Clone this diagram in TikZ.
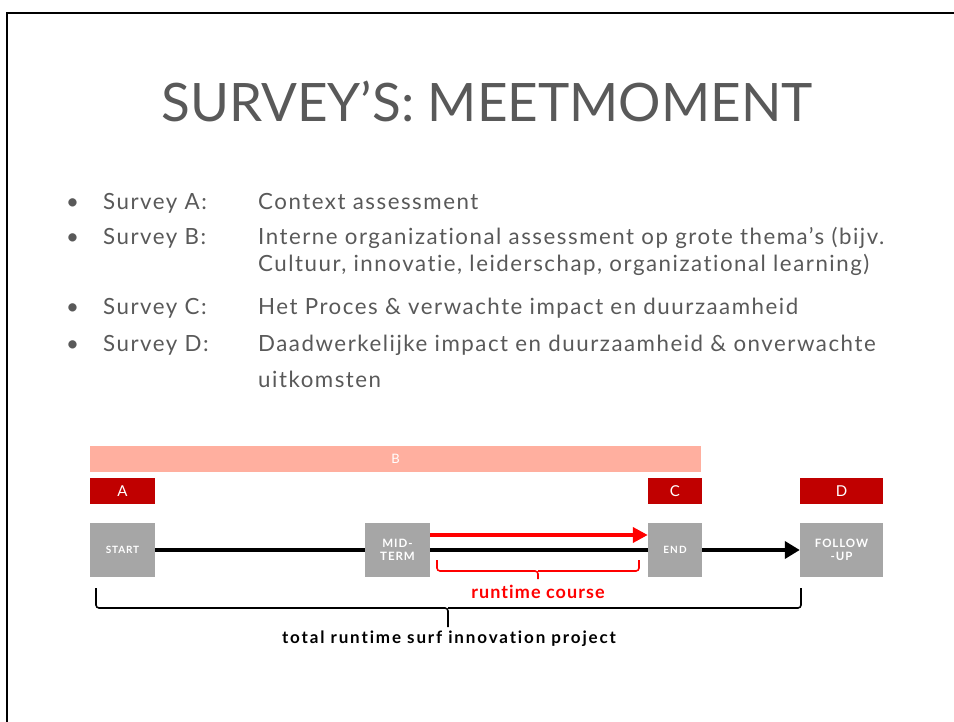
\documentclass[tikz,border=0pt]{standalone}
\usepackage{fontspec}
\setmainfont{Lato}[RawFeature={-liga}]
\usetikzlibrary{arrows.meta}
\definecolor{txtgray}{HTML}{595959}
\definecolor{salmon}{HTML}{FFAF9F}
\definecolor{darkred}{HTML}{C00000}
\definecolor{boxgray}{HTML}{A6A6A6}
\definecolor{brightred}{HTML}{FF0000}
\newcommand{\ls}[1]{\addfontfeature{LetterSpace=#1}}
\tikzset{
  bar/.style={fill=salmon, draw=none, inner sep=0pt, text=white, font=\fontsize{13}{13}\selectfont},
  survey/.style={fill=darkred, draw=none, inner sep=0pt, text=white, font=\fontsize{15}{15}\selectfont\ls{5}},
  phase/.style={fill=boxgray, draw=none, inner sep=0pt, text=white, align=center, font=\bfseries\fontsize{11.5}{13.5}\selectfont\ls{8}},
  bul/.style={anchor=base west, inner sep=0pt, text=txtgray, font=\fontsize{22.3}{22.3}\selectfont\ls{6.8}},
  flow/.style={line width=4pt, black},
  brace/.style={line width=1.6pt, rounded corners=3pt},
}
\begin{document}
\begin{tikzpicture}[x=1pt,y=-1pt]
\useasboundingbox (0,0) rectangle (954,722);
% slide frame
\draw[line width=2.5pt] (7,13) rectangle (1000,800);
% title
\node[text=txtgray, font=\fontsize{53}{53}\selectfont, inner sep=0pt] (title) at (487,101) {SURVEY’S: MEETMOMENT};
% bullets
\foreach \y/\l/\r in {210/Survey A:/Context assessment,
                      245/Survey B:/Interne organizational assessment op grote thema’s (bijv.,
                      315/Survey C:/Het Proces \& verwachte  impact  en duurzaamheid,
                      352/Survey D:/Daadwerkelijke impact en duurzaamheid \& onverwachte}{
  \node[bul] at (66,\y) {•};
  \node[bul] at (103,\y) {\l};
  \node[bul] at (258,\y) {\r};
}
\node[bul] (b2) at (258,272) {Cultuur, innovatie, leiderschap, organizational  learning)};
\node[bul] (d2) at (258,387) {uitkomsten};
% bars
\node[bar, minimum width=611pt, minimum height=26pt] (B) at (395.5,459) {B};
\node[survey, minimum width=65pt, minimum height=26pt] (A) at (122.5,491) {A};
\node[survey, minimum width=54pt, minimum height=26pt] (C) at (675,491) {C};
\node[survey, minimum width=83pt, minimum height=26pt] (D) at (841.5,491) {D};
% phases
\node[phase, minimum width=65pt, minimum height=54pt, font=\bfseries\fontsize{10}{11}\selectfont\ls{8}] (start) at (122.5,550) {START};
\node[phase, minimum width=65pt, minimum height=54pt] (mid) at (397.5,550) {MID-\\TERM};
\node[phase, minimum width=54pt, minimum height=54pt, font=\bfseries\fontsize{10}{11}\selectfont\ls{12}] (end) at (675,550) {END};
\node[phase, minimum width=83pt, minimum height=54pt] (fu) at (841.5,550) {FOLLOW\\-UP};
% flow lines
\draw[flow] (start.east) -- (mid.west);
\draw[flow] (mid.east) -- (end.west);
\draw[flow, -{Triangle[length=15pt,width=17pt]}] (end.east) -- (fu.west);
\draw[line width=4pt, brightred, -{Triangle[length=15pt,width=15pt]}] ([yshift=15pt]mid.east) -- ([yshift=15pt]end.west);
% red brace
\coordinate (rb1) at (437,560);
\coordinate (rb2) at (639,560);
\coordinate (rbm) at (538,571);
\coordinate (rbt) at (538,579);
\draw[brace, brightred] (rb1) |- (rbm) -- (rbt);
\draw[brace, brightred] (rb2) |- (rbm);
\node[text=brightred, font=\bfseries\fontsize{18}{18}\selectfont\ls{6}, inner sep=0pt] (rc) at (538,592) {runtime  course};
% black brace
\coordinate (bb1) at (96,588);
\coordinate (bb2) at (801,588);
\coordinate (bbm) at (448,608);
\coordinate (bbt) at (448,627);
\draw[brace, black] (bb1) |- (bbm) -- (bbt);
\draw[brace, black] (bb2) |- (bbm);
\node[font=\bfseries\fontsize{17}{17}\selectfont\ls{11}, inner sep=0pt] (tr) at (449,639) {total  runtime surf  innovation  project};
\end{tikzpicture}
\end{document}
